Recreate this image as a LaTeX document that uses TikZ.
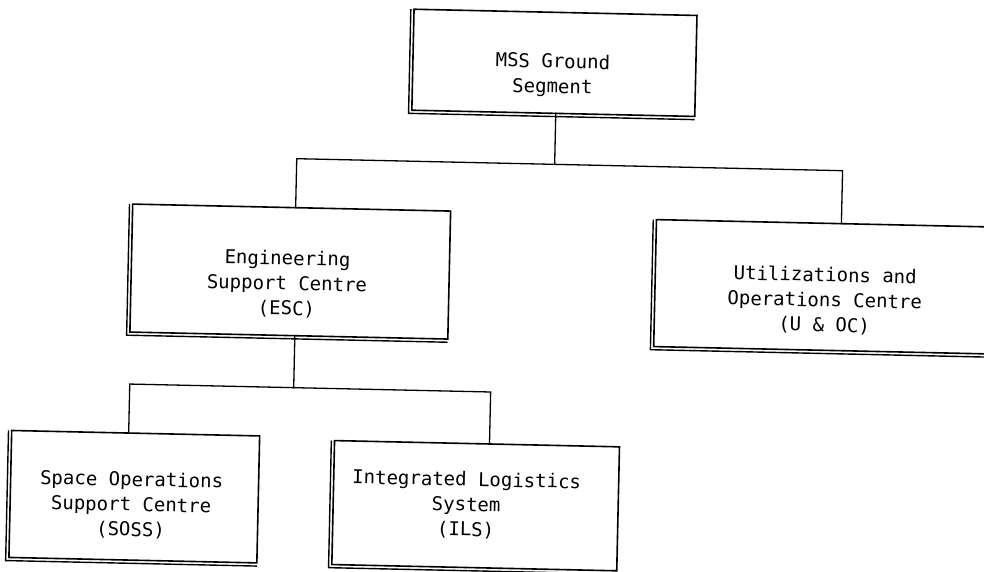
\documentclass[tikz,border=0pt]{standalone}
\usepackage{fontspec}
\newfontfamily\plotfont{DejaVu Sans Mono}
\begin{document}
\begin{tikzpicture}[x=1pt,y=-1pt,
  box/.style={draw, line width=1.6pt, rectangle, inner sep=0pt, outer sep=0pt, fill=white},
  rim/.style={line width=1.4pt},
  link/.style={line width=1.3pt, line cap=rect},
  caption/.style={anchor=base, inner sep=0pt, font=\fontsize{19}{25}\selectfont\plotfont}]
\useasboundingbox (0,0) rectangle (984,571);
\begin{scope}[rotate around={-1.26:(492,285)}, transform shape]
  % boxes of the breakdown
  \node[box, minimum width=283pt, minimum height=101pt] (mss)  at (549.5,61.5) {};
  \node[box, minimum width=318pt, minimum height=128pt] (esc)  at (290,276) {};
  \node[box, minimum width=335pt, minimum height=127pt] (uoc)  at (822.5,279.5) {};
  \node[box, minimum width=248pt, minimum height=127pt] (soss) at (139,504.5) {};
  \node[box, minimum width=285pt, minimum height=124pt] (ils)  at (480.5,506) {};
  % second outline on the left and bottom sides
  \foreach \n in {mss,esc,uoc,soss,ils}
    \draw[rim] ([xshift=-3.2pt]\n.north west) -- ([xshift=-3.2pt,yshift=-3.2pt]\n.south west) -- ([yshift=-3.2pt]\n.south east);
  % captions
  \node[caption] (mssT)  at (548,66.7)  {\begin{tabular}[t]{@{}c@{}}MSS Ground\\Segment\end{tabular}};
  \node[caption] (escT)  at (287,269.5) {\begin{tabular}[t]{@{}c@{}}Engineering\\Support Centre\\(ESC)\end{tabular}};
  \node[caption] (uocT)  at (825,274.4) {\begin{tabular}[t]{@{}c@{}}Utilizations and\\Operations Centre\\(U \& OC)\end{tabular}};
  \node[caption] (sossT) at (136,494)   {\begin{tabular}[t]{@{}c@{}}Space Operations\\Support Centre\\(SOSS)\end{tabular}};
  \node[caption] (ilsT)  at (471,486.6) {\begin{tabular}[t]{@{}c@{}}Integrated Logistics\\System\\(ILS)\end{tabular}};
  % upper tree level
  \coordinate (busL) at (294,163);
  \coordinate (busM) at (552,163);
  \coordinate (busR) at (840,163);
  \draw[link] (mss.south -| busM) -- (busM);
  \draw[link] (esc.north -| busL) -- (busL) -- (busR) -- (uoc.north -| busR);
  % lower tree level
  \coordinate (lowL) at (132,392);
  \coordinate (lowM) at (296,392);
  \coordinate (lowR) at (493,392);
  \draw[link] (esc.south -| lowM) -- (lowM);
  \draw[link] (soss.north -| lowL) -- (lowL) -- (lowR) -- (ils.north -| lowR);
\end{scope}
\end{tikzpicture}
\end{document}
